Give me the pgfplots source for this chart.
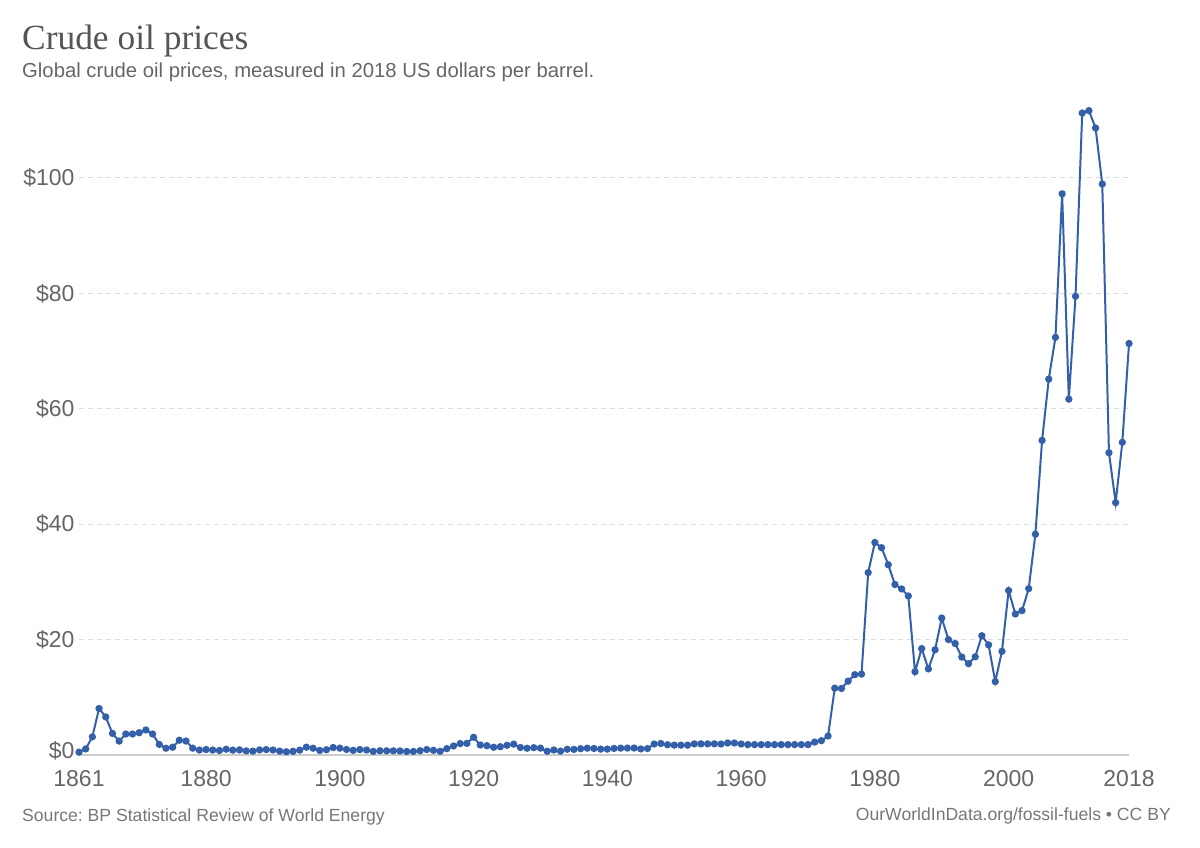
\documentclass[border=0pt]{standalone}
\usepackage{pgfplots}
\pgfplotsset{compat=1.18}
\usepackage{fontspec}
\setmainfont{Liberation Sans}
\newfontfamily\titlefont{Liberation Serif}
\definecolor{owidblue}{RGB}{51,96,169}
\definecolor{titlegray}{RGB}{85,85,85}
\definecolor{textgray}{RGB}{102,102,102}
\definecolor{srcgray}{RGB}{119,119,119}
\definecolor{gridgray}{RGB}{221,221,221}
\definecolor{axisgray}{RGB}{204,204,204}
\frenchspacing
\begin{document}
\begin{tikzpicture}[x=1bp,y=1bp]
\path[use as bounding box] (0,0) rectangle (1200,848);
\node[anchor=base west,inner sep=0,text=titlegray,font=\titlefont\fontsize{35.4bp}{40bp}\selectfont] at (22,798) {Crude oil prices};
\node[anchor=base west,inner sep=0,text=textgray,font=\fontsize{20.3bp}{24bp}\selectfont] at (22,770) {Global crude oil prices, measured in 2018 US dollars per barrel.};
\node[anchor=base west,inner sep=0,text=srcgray,font=\fontsize{17.6bp}{22bp}\selectfont] at (22,26) {Source: BP Statistical Review of World Energy};
\node[anchor=base east,inner sep=0,text=srcgray,font=\fontsize{17.6bp}{22bp}\selectfont] at (1171,27) {OurWorldInData.org/fossil-fuels \textbullet\ CC BY};
\begin{axis}[
  at={(79bp,93bp)}, anchor=origin,
  scale only axis, width=1050bp, height=663.55bp,
  xmin=1861, xmax=2018, ymin=0, ymax=115,
  clip=false,
  axis x line*=bottom, axis y line*=left,
  x axis line style={draw=axisgray, line width=1.2bp},
  y axis line style={draw=none},
  major tick length=0pt,
  xtick={1861,1880,1900,1920,1940,1960,1980,2000,2018},
  xticklabels={1861,1880,1900,1920,1940,1960,1980,2000,2018},
  ytick={20,40,60,80,100},
  extra y ticks={0}, extra y tick labels={\$0},
  extra y tick style={grid=none, yticklabel style={yshift=4bp}},
  yticklabels={\$20,\$40,\$60,\$80,\$100},
  ymajorgrids,
  grid style={draw=gridgray, dashed, line width=1bp, dash pattern=on 5bp off 4bp},
  tick label style={text=textgray, font=\fontsize{23bp}{27bp}\selectfont},
  yticklabel style={xshift=-1bp},
  xticklabel style={yshift=-12bp},
  tick align=outside,
]
\addplot[owidblue, line width=2bp, mark=*, mark size=2.6bp, mark options={fill=owidblue, draw=owidblue}] coordinates {
(1861,0.49)(1862,1.05)(1863,3.15)(1864,8.06)(1865,6.59)(1866,3.74)(1867,2.41)(1868,3.63)(1869,3.64)(1870,3.86)
(1871,4.34)(1872,3.64)(1873,1.83)(1874,1.17)(1875,1.35)(1876,2.56)(1877,2.42)(1878,1.19)(1879,0.86)(1880,0.95)
(1881,0.86)(1882,0.78)(1883,1.00)(1884,0.84)(1885,0.88)(1886,0.71)(1887,0.67)(1888,0.88)(1889,0.94)(1890,0.87)
(1891,0.67)(1892,0.56)(1893,0.64)(1894,0.84)(1895,1.36)(1896,1.18)(1897,0.79)(1898,0.91)(1899,1.29)(1900,1.19)
(1901,0.96)(1902,0.80)(1903,0.94)(1904,0.86)(1905,0.62)(1906,0.73)(1907,0.72)(1908,0.72)(1909,0.70)(1910,0.61)
(1911,0.61)(1912,0.74)(1913,0.95)(1914,0.81)(1915,0.64)(1916,1.10)(1917,1.56)(1918,1.98)(1919,2.01)(1920,3.07)
(1921,1.73)(1922,1.61)(1923,1.34)(1924,1.43)(1925,1.68)(1926,1.88)(1927,1.30)(1928,1.17)(1929,1.27)(1930,1.19)
(1931,0.65)(1932,0.87)(1933,0.67)(1934,1.00)(1935,0.97)(1936,1.09)(1937,1.18)(1938,1.13)(1939,1.02)(1940,1.02)
(1941,1.14)(1942,1.19)(1943,1.20)(1944,1.21)(1945,1.05)(1946,1.12)(1947,1.90)(1948,1.99)(1949,1.78)(1950,1.71)
(1951,1.71)(1952,1.71)(1953,1.93)(1954,1.93)(1955,1.93)(1956,1.93)(1957,1.90)(1958,2.08)(1959,2.08)(1960,1.90)
(1961,1.80)(1962,1.80)(1963,1.80)(1964,1.80)(1965,1.80)(1966,1.80)(1967,1.80)(1968,1.80)(1969,1.80)(1970,1.80)
(1971,2.24)(1972,2.48)(1973,3.29)(1974,11.58)(1975,11.53)(1976,12.80)(1977,13.92)(1978,14.02)(1979,31.61)(1980,36.83)
(1981,35.93)(1982,32.97)(1983,29.55)(1984,28.78)(1985,27.56)(1986,14.43)(1987,18.44)(1988,14.92)(1989,18.23)(1990,23.73)
(1991,20.00)(1992,19.32)(1993,16.97)(1994,15.82)(1995,17.02)(1996,20.67)(1997,19.09)(1998,12.72)(1999,17.97)(2000,28.50)
(2001,24.44)(2002,25.02)(2003,28.83)(2004,38.27)(2005,54.52)(2006,65.14)(2007,72.39)(2008,97.26)(2009,61.67)(2010,79.50)
(2011,111.26)(2012,111.67)(2013,108.66)(2014,98.95)(2015,52.39)(2016,43.73)(2017,54.19)(2018,71.31)
};
\end{axis}
\end{tikzpicture}
\end{document}
